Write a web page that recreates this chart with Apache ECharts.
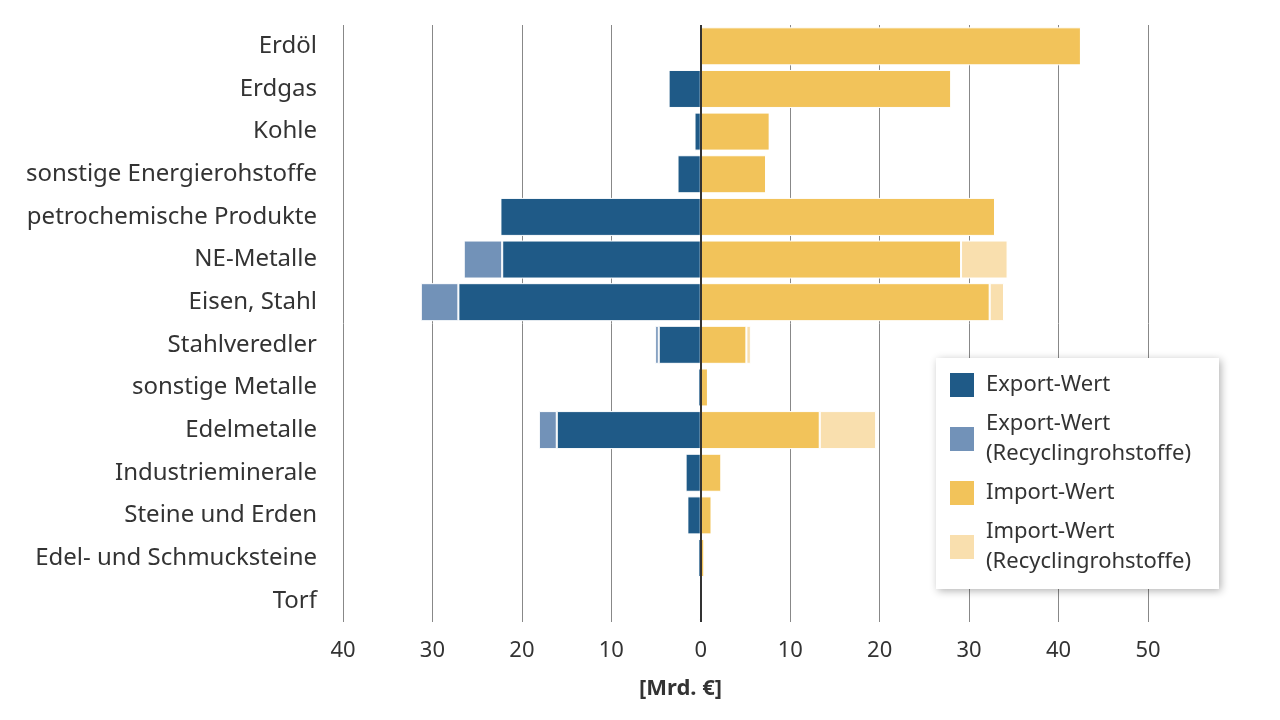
<!DOCTYPE html>
<html><head><meta charset="utf-8">
<script src="https://cdn.jsdelivr.net/npm/echarts@6/dist/echarts.min.js"></script>
<style>html,body{margin:0;background:#fff}#c{width:1280px;height:720px}</style>
</head><body><div id="c"></div>
<script>
const categories = ['Erdöl','Erdgas','Kohle','sonstige Energierohstoffe','petrochemische Produkte','NE-Metalle','Eisen, Stahl','Stahlveredler','sonstige Metalle','Edelmetalle','Industrieminerale','Steine und Erden','Edel- und Schmucksteine','Torf'];
const exportValue = [0,-3.6,-0.7,-2.6,-22.4,-22.2,-27.1,-4.7,-0.3,-16.1,-1.7,-1.5,-0.3,-0.2];
const exportRecycling = [0,0,0,0,0,-4.3,-4.2,-0.4,0,-2.0,0,0,0,0];
const importValue = [42.5,28.0,7.7,7.3,32.9,29.1,32.3,5.1,0.8,13.3,2.3,1.2,0.4,0.2];
const importRecycling = [0,0,0,0,0,5.2,1.6,0.5,0,6.3,0,0,0,0];

const font = '"Noto Sans", "Open Sans", sans-serif';
const chart = echarts.init(document.getElementById('c'));
const bar = (name, data, color) => ({
  name, type: 'bar', stack: 'a', data, barWidth: 38,
  itemStyle: { color, borderColor: '#fff', borderWidth: 1 }
});
chart.setOption({
  animation: false,
  textStyle: { fontFamily: font },
  grid: { left: 343, right: 132, top: 25, bottom: 98 },
  xAxis: {
    type: 'value', min: -40, max: 50, interval: 10,
    name: '[Mrd. €]', nameLocation: 'middle', nameGap: 56,
    nameTextStyle: { fontSize: 22, fontWeight: 'bold', color: '#333', fontFamily: font, padding: [0, 130, 0, 0] },
    axisLabel: { fontSize: 22, color: '#333', margin: 18, formatter: v => Math.abs(v) },
    splitLine: { lineStyle: { color: '#888', width: 1 } },
    axisLine: { show: false }, axisTick: { show: false }
  },
  yAxis: {
    type: 'category', data: categories, inverse: true,
    axisLabel: { fontSize: 24, color: '#333', margin: 26 },
    axisTick: { show: false }, axisLine: { show: false }
  },
  legend: {
    orient: 'vertical', left: 936, top: 358,
    padding: [12, 28, 12, 12], itemGap: 9, itemWidth: 26, itemHeight: 26,
    backgroundColor: '#fff', shadowColor: 'rgba(0,0,0,0.3)', shadowBlur: 8, shadowOffsetX: 2, shadowOffsetY: 2,
    textStyle: { fontSize: 22, color: '#333', lineHeight: 30, padding: [0, 0, 0, 6] },
    data: ['Export-Wert', 'Export-Wert\n(Recyclingrohstoffe)', 'Import-Wert', 'Import-Wert\n(Recyclingrohstoffe)'],
    icon: 'rect'
  },
  series: [
    bar('Export-Wert', exportValue, '#1f5a87'),
    bar('Export-Wert\n(Recyclingrohstoffe)', exportRecycling, '#7292b8'),
    bar('Import-Wert', importValue, '#f2c35a'),
    bar('Import-Wert\n(Recyclingrohstoffe)', importRecycling, '#f9dfae'),
    { type: 'line', data: [], markLine: { silent: true, symbol: 'none', label: { show: false },
      lineStyle: { color: '#333', width: 2, type: 'solid' }, data: [{ xAxis: 0 }] } }
  ]
});
</script></body></html>
